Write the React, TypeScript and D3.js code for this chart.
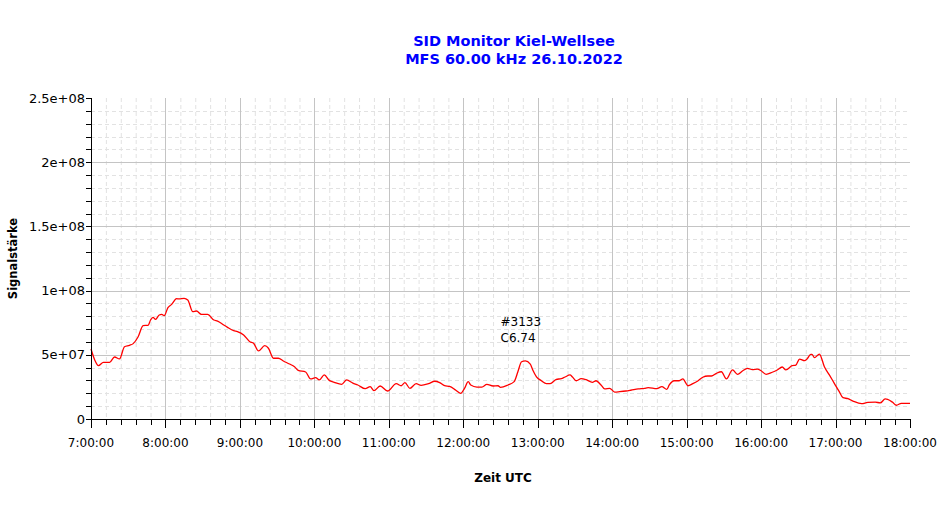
import * as d3 from 'd3';

// SID monitor readings, 26.10.2022 (UTC), signal in units of 1e7
const times = [
  '7:00', '7:03', '7:06', '7:10', '7:15', '7:19', '7:23', '7:27', '7:31', '7:34',
  '7:38', '7:42', '7:46', '7:48', '7:50', '7:52', '7:55', '7:57', '7:59', '8:02',
  '8:05', '8:09', '8:11', '8:15', '8:18', '8:22', '8:25', '8:29', '8:34', '8:39',
  '8:42', '8:47', '8:50', '8:55', '8:58', '9:03', '9:08', '9:11', '9:15', '9:20',
  '9:23', '9:27', '9:31', '9:35', '9:40', '9:44', '9:47', '9:53', '9:57', '10:01',
  '10:04', '10:08', '10:12', '10:16', '10:22', '10:26', '10:31', '10:35', '10:41', '10:45',
  '10:48', '10:53', '10:59', '11:06', '11:10', '11:13', '11:17', '11:22', '11:26', '11:32',
  '11:37', '11:41', '11:45', '11:49', '11:54', '11:58', '12:01', '12:04', '12:06', '12:11',
  '12:15', '12:19', '12:24', '12:28', '12:30', '12:36', '12:41', '12:44', '12:47', '12:50',
  '12:54', '12:56', '12:59', '13:03', '13:07', '13:10', '13:15', '13:19', '13:22', '13:26',
  '13:28', '13:31', '13:35', '13:39', '13:44', '13:47', '13:51', '13:54', '13:58', '14:02',
  '14:06', '14:11', '14:15', '14:21', '14:26', '14:29', '14:36', '14:40', '14:44', '14:46',
  '14:50', '14:54', '14:57', '14:59', '15:01', '15:05', '15:09', '15:13', '15:17', '15:20',
  '15:24', '15:28', '15:32', '15:37', '15:41', '15:45', '15:49', '15:53', '15:57', '16:00',
  '16:04', '16:09', '16:13', '16:17', '16:20', '16:25', '16:28', '16:31', '16:35', '16:37',
  '16:40', '16:41', '16:43', '16:47', '16:51', '16:55', '16:59', '17:03', '17:06', '17:10',
  '17:14', '17:21', '17:26', '17:32', '17:36', '17:40', '17:42', '17:46', '17:49', '17:53',
  '18:00',
];

const signalE7 = [
  5.45, 4.6, 4.15, 4.41, 4.41, 4.83, 4.68, 5.63, 5.74, 5.87,
  6.41, 7.27, 7.3, 7.71, 7.92, 7.76, 8.1, 8.15, 8.05, 8.67,
  8.93, 9.37, 9.35, 9.4, 9.27, 8.36, 8.41, 8.15, 8.15, 7.71,
  7.63, 7.32, 7.14, 6.88, 6.8, 6.54, 6.02, 5.9, 5.3, 5.71,
  5.51, 4.73, 4.73, 4.52, 4.28, 4.07, 3.79, 3.66, 3.12, 3.22,
  3.04, 3.43, 3.01, 2.86, 2.7, 3.04, 2.8, 2.65, 2.36, 2.52,
  2.21, 2.57, 2.18, 2.75, 2.59, 2.83, 2.39, 2.75, 2.62, 2.75,
  2.94, 2.83, 2.59, 2.54, 2.24, 2.0, 2.39, 2.91, 2.65, 2.49,
  2.49, 2.7, 2.57, 2.59, 2.47, 2.65, 2.91, 3.68, 4.46, 4.52,
  4.28, 3.82, 3.29, 2.98, 2.75, 2.75, 3.09, 3.14, 3.27, 3.43,
  3.27, 2.98, 3.14, 3.06, 2.86, 2.98, 2.65, 2.34, 2.39, 2.1,
  2.13, 2.18, 2.24, 2.34, 2.39, 2.44, 2.36, 2.52, 2.31, 2.65,
  2.98, 2.98, 3.12, 2.86, 2.59, 2.75, 2.96, 3.25, 3.35, 3.35,
  3.56, 3.68, 3.12, 3.82, 3.48, 3.74, 3.95, 3.84, 3.89, 3.76,
  3.48, 3.64, 3.82, 4.05, 3.82, 4.15, 4.2, 4.67, 4.54, 4.67,
  5.04, 5.04, 4.78, 5.06, 4.07, 3.43, 2.78, 2.13, 1.66, 1.58,
  1.4, 1.19, 1.3, 1.32, 1.25, 1.56, 1.53, 1.3, 1.07, 1.22,
  1.22,
];

const titleLines = ['SID Monitor Kiel-Wellsee', 'MFS 60.00 kHz 26.10.2022'];
const flareLines = ['#3133', 'C6.74'];
const flareTime = '12:30';
const flareLevel = 7.25e7;
const yMajorTicks = [0, 5e7, 1e8, 1.5e8, 2e8, 2.5e8];

const W = 941;
const H = 515;
const left = 91;
const right = 910;
const top = 98;
const bottom = 419;

const toDate = (t: string) => {
  const [h, m] = t.split(':').map(Number);
  return new Date(Date.UTC(2022, 9, 26, h, m));
};

const fmtY = (v: number) => {
  if (v === 0) return '0';
  return v.toExponential().replace(/e([+-])(\d)$/, 'e$10$2');
};

export default function App() {
  const x = d3.scaleUtc().domain([toDate('7:00'), toDate('18:00')]).range([left, right]);
  const y = d3.scaleLinear().domain([0, 2.5e8]).range([bottom, top]);

  const points = times.map((t, i) => [toDate(t), signalE7[i] * 1e7] as [Date, number]);
  const line = d3
    .line<[Date, number]>()
    .x((d) => x(d[0]))
    .y((d) => y(d[1]))
    .curve(d3.curveMonotoneX);

  const xMajor = x.ticks(d3.utcHour.every(1));
  const xMinor = x.ticks(d3.utcMinute.every(12)).filter((d) => d.getUTCMinutes() !== 0);
  const yMinor = d3.range(0, 2.5e8 + 1, 1e7).filter((v) => v % 5e7 !== 0);
  const fmtX = d3.utcFormat('%-H:%M:%S');
  const xEnd = x.domain()[1].getTime();

  const font = 'DejaVu Sans, Verdana, sans-serif';

  return (
    <svg width={W} height={H} style={{ position: 'absolute', left: 0, top: 0, background: '#fff' }} fontFamily={font}>
      {/* minor grid */}
      <g stroke="#e2e2e2" strokeDasharray="4,3" strokeWidth={1}>
        {xMinor.map((d, i) => (
          <line key={'xm' + i} x1={x(d) + 0.5} x2={x(d) + 0.5} y1={top} y2={bottom} />
        ))}
        {yMinor.map((v, i) => (
          <line key={'ym' + i} x1={left} x2={right} y1={Math.round(y(v)) + 0.5} y2={Math.round(y(v)) + 0.5} />
        ))}
      </g>
      {/* major grid */}
      <g stroke="#c4c4c4" strokeWidth={1}>
        {xMajor
          .filter((d) => d.getTime() !== xEnd && d.getUTCHours() !== 7)
          .map((d, i) => (
            <line key={'xg' + i} x1={Math.round(x(d)) + 0.5} x2={Math.round(x(d)) + 0.5} y1={top} y2={bottom} />
          ))}
        {yMajorTicks
          .filter((v) => v !== 0 && v !== 2.5e8)
          .map((v, i) => (
            <line key={'yg' + i} x1={left} x2={right} y1={Math.round(y(v)) + 0.5} y2={Math.round(y(v)) + 0.5} />
          ))}
      </g>

      {/* signal */}
      <path d={line(points) || ''} fill="none" stroke="#ff0000" strokeWidth={1.3} />

      {/* flare annotation */}
      {flareLines.map((s, i) => (
        <text key={s} x={x(toDate(flareTime))} y={y(flareLevel) + i * 16} fontSize={12} fill="#000">
          {s}
        </text>
      ))}

      {/* x axis */}
      <g stroke="#000" strokeWidth={1}>
        <line x1={left} x2={right + 0.5} y1={bottom + 0.5} y2={bottom + 0.5} />
        {xMajor.map((d, i) => (
          <line key={'xt' + i} x1={Math.round(x(d)) + 0.5} x2={Math.round(x(d)) + 0.5} y1={bottom} y2={bottom + 9} />
        ))}
        {xMinor.map((d, i) => (
          <line key={'xmt' + i} x1={Math.round(x(d)) + 0.5} x2={Math.round(x(d)) + 0.5} y1={bottom} y2={bottom + 6} />
        ))}
      </g>
      {xMajor.map((d, i) => (
        <text key={'xl' + i} x={x(d)} y={447} fontSize={12} textAnchor="middle" fill="#000">
          {fmtX(d)}
        </text>
      ))}

      {/* y axis */}
      <g stroke="#000" strokeWidth={1}>
        <line x1={left + 0.5} x2={left + 0.5} y1={top} y2={bottom + 1} />
        {yMajorTicks.map((v, i) => (
          <line key={'yt' + i} x1={left - 5} x2={left} y1={Math.round(y(v)) + 0.5} y2={Math.round(y(v)) + 0.5} />
        ))}
        {yMinor.map((v, i) => (
          <line key={'ymt' + i} x1={left - 5} x2={left} y1={Math.round(y(v)) + 0.5} y2={Math.round(y(v)) + 0.5} />
        ))}
      </g>
      {yMajorTicks.map((v, i) => (
        <text key={'yl' + i} x={left - 6} y={y(v)} dy="0.35em" fontSize={13} textAnchor="end" fill="#000">
          {fmtY(v)}
        </text>
      ))}

      {/* titles */}
      {titleLines.map((s, i) => (
        <text key={s} x={514} y={46 + i * 17.5} fontSize={14.5} fontWeight="bold" textAnchor="middle" fill="#0000ff">
          {s}
        </text>
      ))}
      <text x={503} y={482} fontSize={12} fontWeight="bold" textAnchor="middle" fill="#000">
        Zeit UTC
      </text>
      <text
        transform={`translate(17, ${(top + bottom) / 2}) rotate(-90)`}
        fontSize={11.5}
        fontWeight="bold"
        textAnchor="middle"
        fill="#000"
      >
        Signalstärke
      </text>
    </svg>
  );
}
